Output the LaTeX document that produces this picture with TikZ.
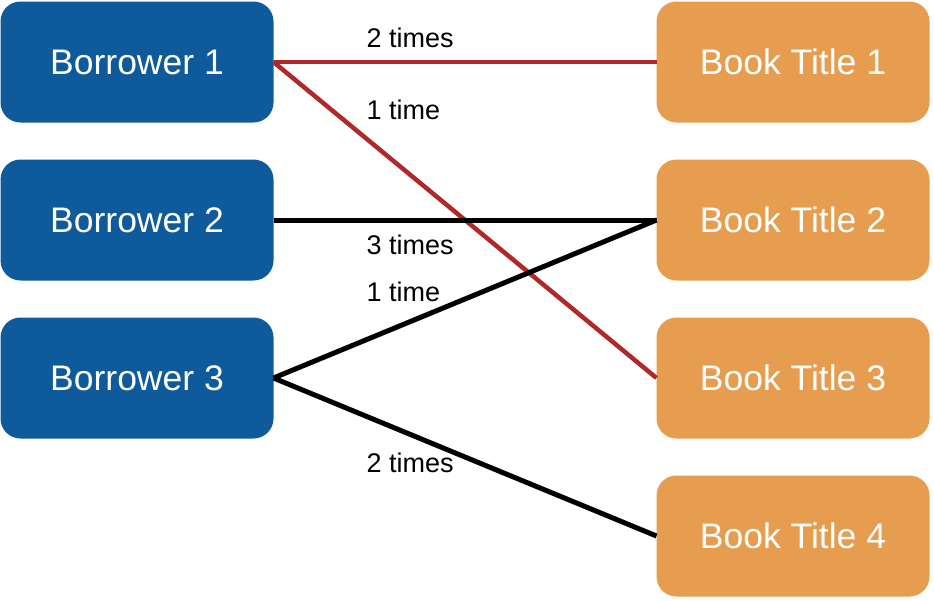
\documentclass[tikz,border=0pt]{standalone}
\usepackage{fontspec}
\setmainfont{Liberation Sans}
\usepackage{tikz}
\usetikzlibrary{positioning}

\definecolor{borrowblue}{HTML}{0E5A9B}
\definecolor{bookorange}{HTML}{E69D4F}
\definecolor{linkred}{HTML}{B0292A}

\begin{document}
\begin{tikzpicture}[auto,node distance=37pt and 383pt,line width=5pt]
\tikzstyle{borrower}=[rectangle,rounded corners=20pt,fill=borrowblue,text=white,minimum width=273pt,minimum height=121pt,inner sep=0pt,outer sep=0pt,font=\fontsize{35.5}{42}\selectfont]
\tikzstyle{book}=[borrower,fill=bookorange]
\tikzstyle{times}=[inner sep=0pt,outer sep=0pt,anchor=base west,font=\fontsize{27}{32}\selectfont,text=black,pos=0.243]
\tikzstyle{redlink}=[draw=linkred,line width=4.5pt]
\useasboundingbox (0,0) rectangle (934pt,-600pt);
\node[borrower,anchor=north west] (B1) at (0.5pt,-1.5pt) {Borrower 1};
\node[borrower][below=of B1](B2){Borrower 2};
\node[borrower][below=of B2](B3){Borrower 3};
\node[book][right=of B1](T1){Book Title 1};
\node[book][below=of T1](T2){Book Title 2};
\node[book][below=of T2](T3){Book Title 3};
\node[book][below=of T3](T4){Book Title 4};
\path (B1.east)edge[redlink] node[times,yshift=15pt]{2 times}(T1.west)
              edge[redlink] node[times,yshift=19.5pt]{1 time}(T3.west)
          (B2.east)edge[draw=black] node[times,yshift=-34pt]{3 times}(T2.west)
          (B3.east)edge[draw=black] node[times,yshift=38.5pt]{1 time}(T2.west)
              edge[draw=black] node[times,yshift=-56.5pt]{2 times}(T4.west);
\end{tikzpicture}
\end{document}
